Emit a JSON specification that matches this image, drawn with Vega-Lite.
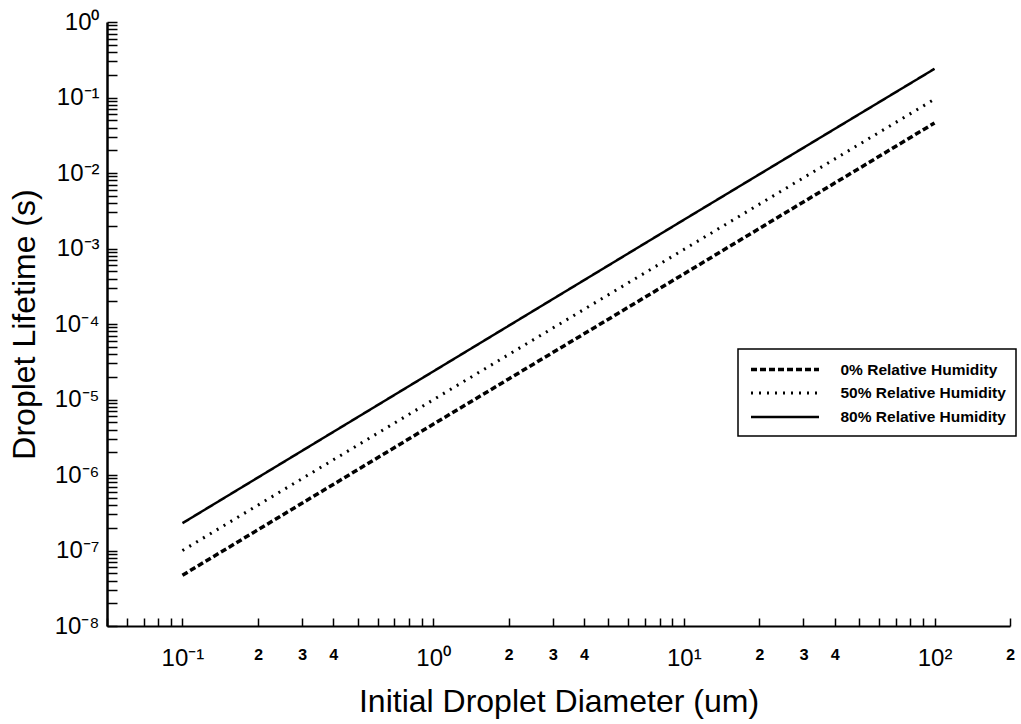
{
  "$schema": "https://vega.github.io/schema/vega-lite/v6.json",
  "width": 903,
  "height": 604,
  "autosize": {"type": "none"},
  "padding": {"left": 107, "top": 22, "right": 11, "bottom": 98},
  "background": "white",
  "config": {"view": {"stroke": null}, "font": "Liberation Sans", "legend": {"strokeWidth": 1.5}},
  "data": {
    "values": [
      {"d": 0.1, "t": 4.7e-8, "series": "0% Relative Humidity"},
      {"d": 1, "t": 4.7e-6, "series": "0% Relative Humidity"},
      {"d": 10, "t": 4.6e-4, "series": "0% Relative Humidity"},
      {"d": 100, "t": 0.046, "series": "0% Relative Humidity"},
      {"d": 0.1, "t": 1.0e-7, "series": "50% Relative Humidity"},
      {"d": 1, "t": 9.9e-6, "series": "50% Relative Humidity"},
      {"d": 10, "t": 9.7e-4, "series": "50% Relative Humidity"},
      {"d": 100, "t": 0.095, "series": "50% Relative Humidity"},
      {"d": 0.1, "t": 2.3e-7, "series": "80% Relative Humidity"},
      {"d": 1, "t": 2.35e-5, "series": "80% Relative Humidity"},
      {"d": 10, "t": 2.4e-3, "series": "80% Relative Humidity"},
      {"d": 100, "t": 0.24, "series": "80% Relative Humidity"}
    ]
  },
  "mark": {"type": "line", "clip": true, "strokeCap": "butt", "color": "black"},
  "encoding": {
    "x": {
      "field": "d",
      "type": "quantitative",
      "scale": {"type": "log", "domain": [0.05, 200], "nice": false},
      "axis": {
        "title": "Initial Droplet Diameter (um)",
        "titleFont": "Liberation Sans",
        "titleFontSize": 32,
        "titleFontWeight": "normal",
        "titleColor": "black",
        "titlePadding": 16,
        "grid": false,
        "values": [0.05, 0.06, 0.07, 0.08, 0.09, 0.1, 0.2, 0.3, 0.4, 0.5, 0.6, 0.7, 0.8, 0.9, 1, 2, 3, 4, 5, 6, 7, 8, 9, 10, 20, 30, 40, 50, 60, 70, 80, 90, 100, 200],
        "labelExpr": "indexof([0.1,0.2,0.3,0.4,1,2,3,4,10,20,30,40,100,200], datum.value) < 0 ? '' : (abs(log(datum.value)/LN10 - round(log(datum.value)/LN10)) < 0.001 ? '10' + (round(log(datum.value)/LN10) < 0 ? '⁻' : '') + ['⁰','¹','²','³','⁴','⁵','⁶','⁷','⁸','⁹'][abs(round(log(datum.value)/LN10))] : toString(round(datum.value / pow(10, floor(log(datum.value)/LN10 + 0.000001)))))",
        "labelFont": {"condition": {"test": "abs(log(datum.value)/LN10 - round(log(datum.value)/LN10)) < 0.001", "value": "Liberation Sans"}, "value": "Liberation Mono"},
        "labelFontSize": {"condition": {"test": "abs(log(datum.value)/LN10 - round(log(datum.value)/LN10)) < 0.001", "value": 24}, "value": 16},
        "labelFontWeight": {"condition": {"test": "abs(log(datum.value)/LN10 - round(log(datum.value)/LN10)) < 0.001", "value": "normal"}, "value": "bold"},
        "labelColor": "black",
        "labelOverlap": false,
        "labelFlush": false,
        "labelPadding": 28,
        "tickSize": -8,
        "tickColor": "black",
        "tickWidth": 1.5,
        "domainColor": "black",
        "domainWidth": 2
      }
    },
    "y": {
      "field": "t",
      "type": "quantitative",
      "scale": {"type": "log", "domain": [1e-8, 1], "nice": false},
      "axis": {
        "title": "Droplet Lifetime (s)",
        "titleFont": "Liberation Sans",
        "titleFontSize": 32,
        "titleFontWeight": "normal",
        "titleColor": "black",
        "titlePadding": 12,
        "grid": false,
        "values": [1e-8, 2e-8, 3e-8, 4e-8, 5e-8, 6e-8, 7e-8, 8e-8, 9e-8,
                   1e-7, 2e-7, 3e-7, 4e-7, 5e-7, 6e-7, 7e-7, 8e-7, 9e-7,
                   1e-6, 2e-6, 3e-6, 4e-6, 5e-6, 6e-6, 7e-6, 8e-6, 9e-6,
                   1e-5, 2e-5, 3e-5, 4e-5, 5e-5, 6e-5, 7e-5, 8e-5, 9e-5,
                   1e-4, 2e-4, 3e-4, 4e-4, 5e-4, 6e-4, 7e-4, 8e-4, 9e-4,
                   1e-3, 2e-3, 3e-3, 4e-3, 5e-3, 6e-3, 7e-3, 8e-3, 9e-3,
                   1e-2, 2e-2, 3e-2, 4e-2, 5e-2, 6e-2, 7e-2, 8e-2, 9e-2,
                   0.1, 0.2, 0.3, 0.4, 0.5, 0.6, 0.7, 0.8, 0.9, 1],
        "labelExpr": "abs(log(datum.value)/LN10 - round(log(datum.value)/LN10)) < 0.001 ? '10' + (round(log(datum.value)/LN10) < 0 ? '⁻' : '') + ['⁰','¹','²','³','⁴','⁵','⁶','⁷','⁸','⁹'][abs(round(log(datum.value)/LN10))] : ''",
        "labelFont": "Liberation Sans",
        "labelFontSize": 24,
        "labelColor": "black",
        "labelOverlap": false,
        "labelFlush": false,
        "labelPadding": 18,
        "tickSize": -10,
        "tickColor": "black",
        "tickWidth": 1.5,
        "domainColor": "black",
        "domainWidth": 2.5
      }
    },
    "strokeDash": {
      "field": "series",
      "type": "nominal",
      "scale": {
        "domain": ["0% Relative Humidity", "50% Relative Humidity", "80% Relative Humidity"],
        "range": [[6, 3], [2, 6], [1, 0]]
      },
      "legend": {
        "title": null,
        "orient": "none",
        "legendX": 631,
        "legendY": 327,
        "padding": 10,
        "strokeColor": "black",
        "fillColor": "white",
        "cornerRadius": 0,
        "symbolType": "M-4,0H4",
        "symbolSize": 289,
        "symbolOffset": 26.5,
        "symbolStrokeWidth": 3,
        "symbolStrokeColor": "black",
        "labelOffset": 45,
        "labelFont": "Liberation Sans",
        "labelFontSize": 15.5,
        "labelFontWeight": "bold",
        "labelColor": "black",
        "labelLimit": 300,
        "rowPadding": 5
      }
    },
    "strokeWidth": {
      "field": "series",
      "type": "nominal",
      "scale": {
        "domain": ["0% Relative Humidity", "50% Relative Humidity", "80% Relative Humidity"],
        "range": [3.5, 2.5, 3]
      },
      "legend": null
    }
  }
}
